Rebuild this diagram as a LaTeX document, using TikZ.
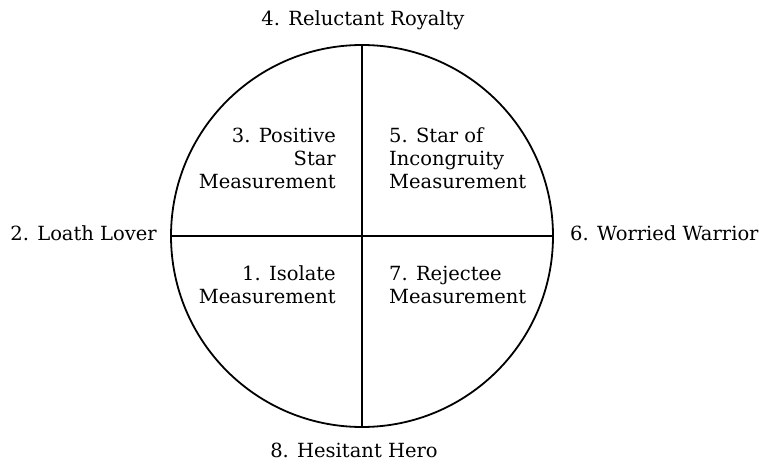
\documentclass[tikz,border=0pt]{standalone}
\usepackage{fontspec}
\setmainfont{DejaVu Serif}
\begin{document}
\begin{tikzpicture}[x=1pt,y=1pt,
  lbl/.style={inner sep=0pt,font=\fontsize{19.5}{23}\selectfont},
  rq/.style={lbl,align=right,anchor=east},
  lq/.style={lbl,align=left,anchor=west},
  ln/.style={line width=1.8pt}]
\useasboundingbox (0,0) rectangle (759,463);
\node[circle,draw,ln,minimum size=382pt,inner sep=0pt] (c) at (362,227) {};
\draw[ln] (c.north) -- (c.south);
\draw[ln] (c.west) -- (c.east);
\node[lbl] (n4) at (363,443) {4. Reluctant Royalty};
\node[lbl] (n8) at (354,13) {8. Hesitant Hero};
\node[lbl,anchor=east] (n2) at (157,230) {2. Loath Lover};
\node[lbl,anchor=west] (n6) at (570,230) {6. Worried Warrior};
\node[rq] (n3) at (336,305) {3. Positive\\Star\\Measurement};
\node[lq] (n5) at (389,305) {5. Star of\\Incongruity\\Measurement};
\node[rq] (n1) at (336,178) {1. Isolate\\Measurement};
\node[lq] (n7) at (389,178) {7. Rejectee\\Measurement};
\end{tikzpicture}
\end{document}
